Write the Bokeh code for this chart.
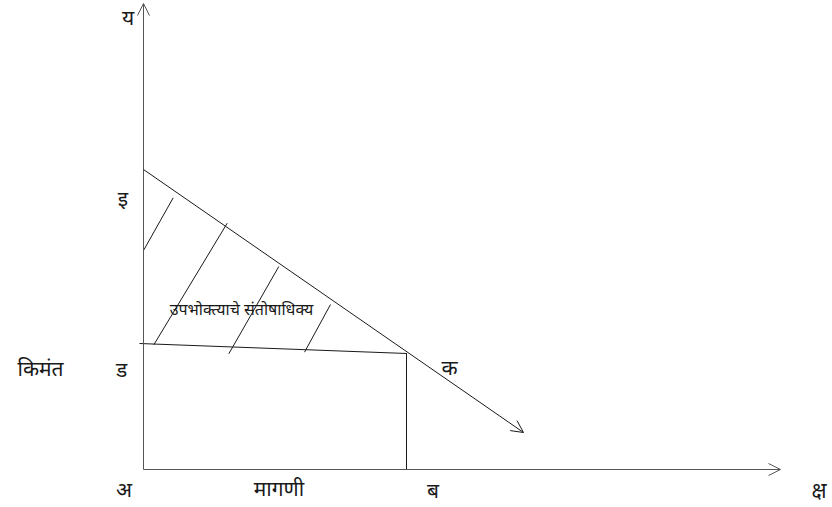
from bokeh.plotting import figure
from bokeh.models import Range1d, Arrow, OpenHead, ColumnDataSource
from bokeh.core.properties import value
from bokeh.embed import file_html
from bokeh.resources import INLINE

# ---- data (origin at अ, x = quantity, y = price) ----
demand_x = [0, 380]
demand_y = [300, 37]

price_x = [-4, 263.5]
price_y = [126, 116]

quantity_b = [263]
quantity_b_price = [116]

yaxis_top = [466]
xaxis_right = [637]

hatch_x0 = [0, 10.3, 85.3, 161]
hatch_y0 = [219, 124.7, 115.7, 117.3]
hatch_x1 = [29.7, 83.7, 135.3, 187]
hatch_y1 = [271.7, 246.3, 203, 165]

big_labels = ["य", "इ", "किमंत", "ड", "अ", "मागणी", "ब", "क", "क्ष"]
big_label_x = [-15.5, -20.5, -103, -22, -19.5, 135.5, 289.5, 306, 675.5]
big_label_y = [453, 272, 102, 101, -19, -18, -20, 103, -20]

area_label = ["उपभोक्त्याचे संतोषाधिक्य"]
area_label_x = [98]
area_label_y = [161]

# ---- figure ----
p = figure(width=832, height=507, output_backend="svg", toolbar_location=None,
           x_range=Range1d(-143, 689), y_range=Range1d(-38, 469), min_border=0)
p.axis.visible = False
p.grid.visible = False
p.outline_line_color = None
p.background_fill_color = "white"

axis_color = "#555555"
line_color = "#1a1a1a"

# axes with open arrow heads
p.add_layout(Arrow(end=OpenHead(size=12, line_color=axis_color, line_width=1),
                   x_start=0, y_start=0, x_end=0, y_end=yaxis_top[0],
                   line_color=axis_color, line_width=1))
p.add_layout(Arrow(end=OpenHead(size=12, line_color=axis_color, line_width=1),
                   x_start=0, y_start=0, x_end=xaxis_right[0], y_end=0,
                   line_color=axis_color, line_width=1))

# demand curve with arrow
p.add_layout(Arrow(end=OpenHead(size=12, line_color=line_color, line_width=1),
                   x_start=demand_x[0], y_start=demand_y[0],
                   x_end=demand_x[1], y_end=demand_y[1],
                   line_color=line_color, line_width=1))

# price line and vertical at ब
p.line(price_x, price_y, line_color=line_color, line_width=1)
p.segment(x0=quantity_b, y0=[0], x1=quantity_b, y1=quantity_b_price,
          line_color=line_color, line_width=1)

# hatching of consumer surplus
p.segment(x0=hatch_x0, y0=hatch_y0, x1=hatch_x1, y1=hatch_y1,
          line_color=line_color, line_width=1)

# labels
src = ColumnDataSource(dict(x=big_label_x, y=big_label_y, t=big_labels))
p.text(x="x", y="y", text="t", source=src, text_align="center",
       text_baseline="middle", text_font_size="21px",
       text_font=value("Noto Sans"), text_color="#1a1a1a")

p.text(x=area_label_x, y=area_label_y, text=area_label, text_align="center",
       text_baseline="middle", text_font_size="16px",
       text_font=value("Noto Sans"), text_color="#1a1a1a")

open("out.html", "w").write(file_html(p, INLINE))
